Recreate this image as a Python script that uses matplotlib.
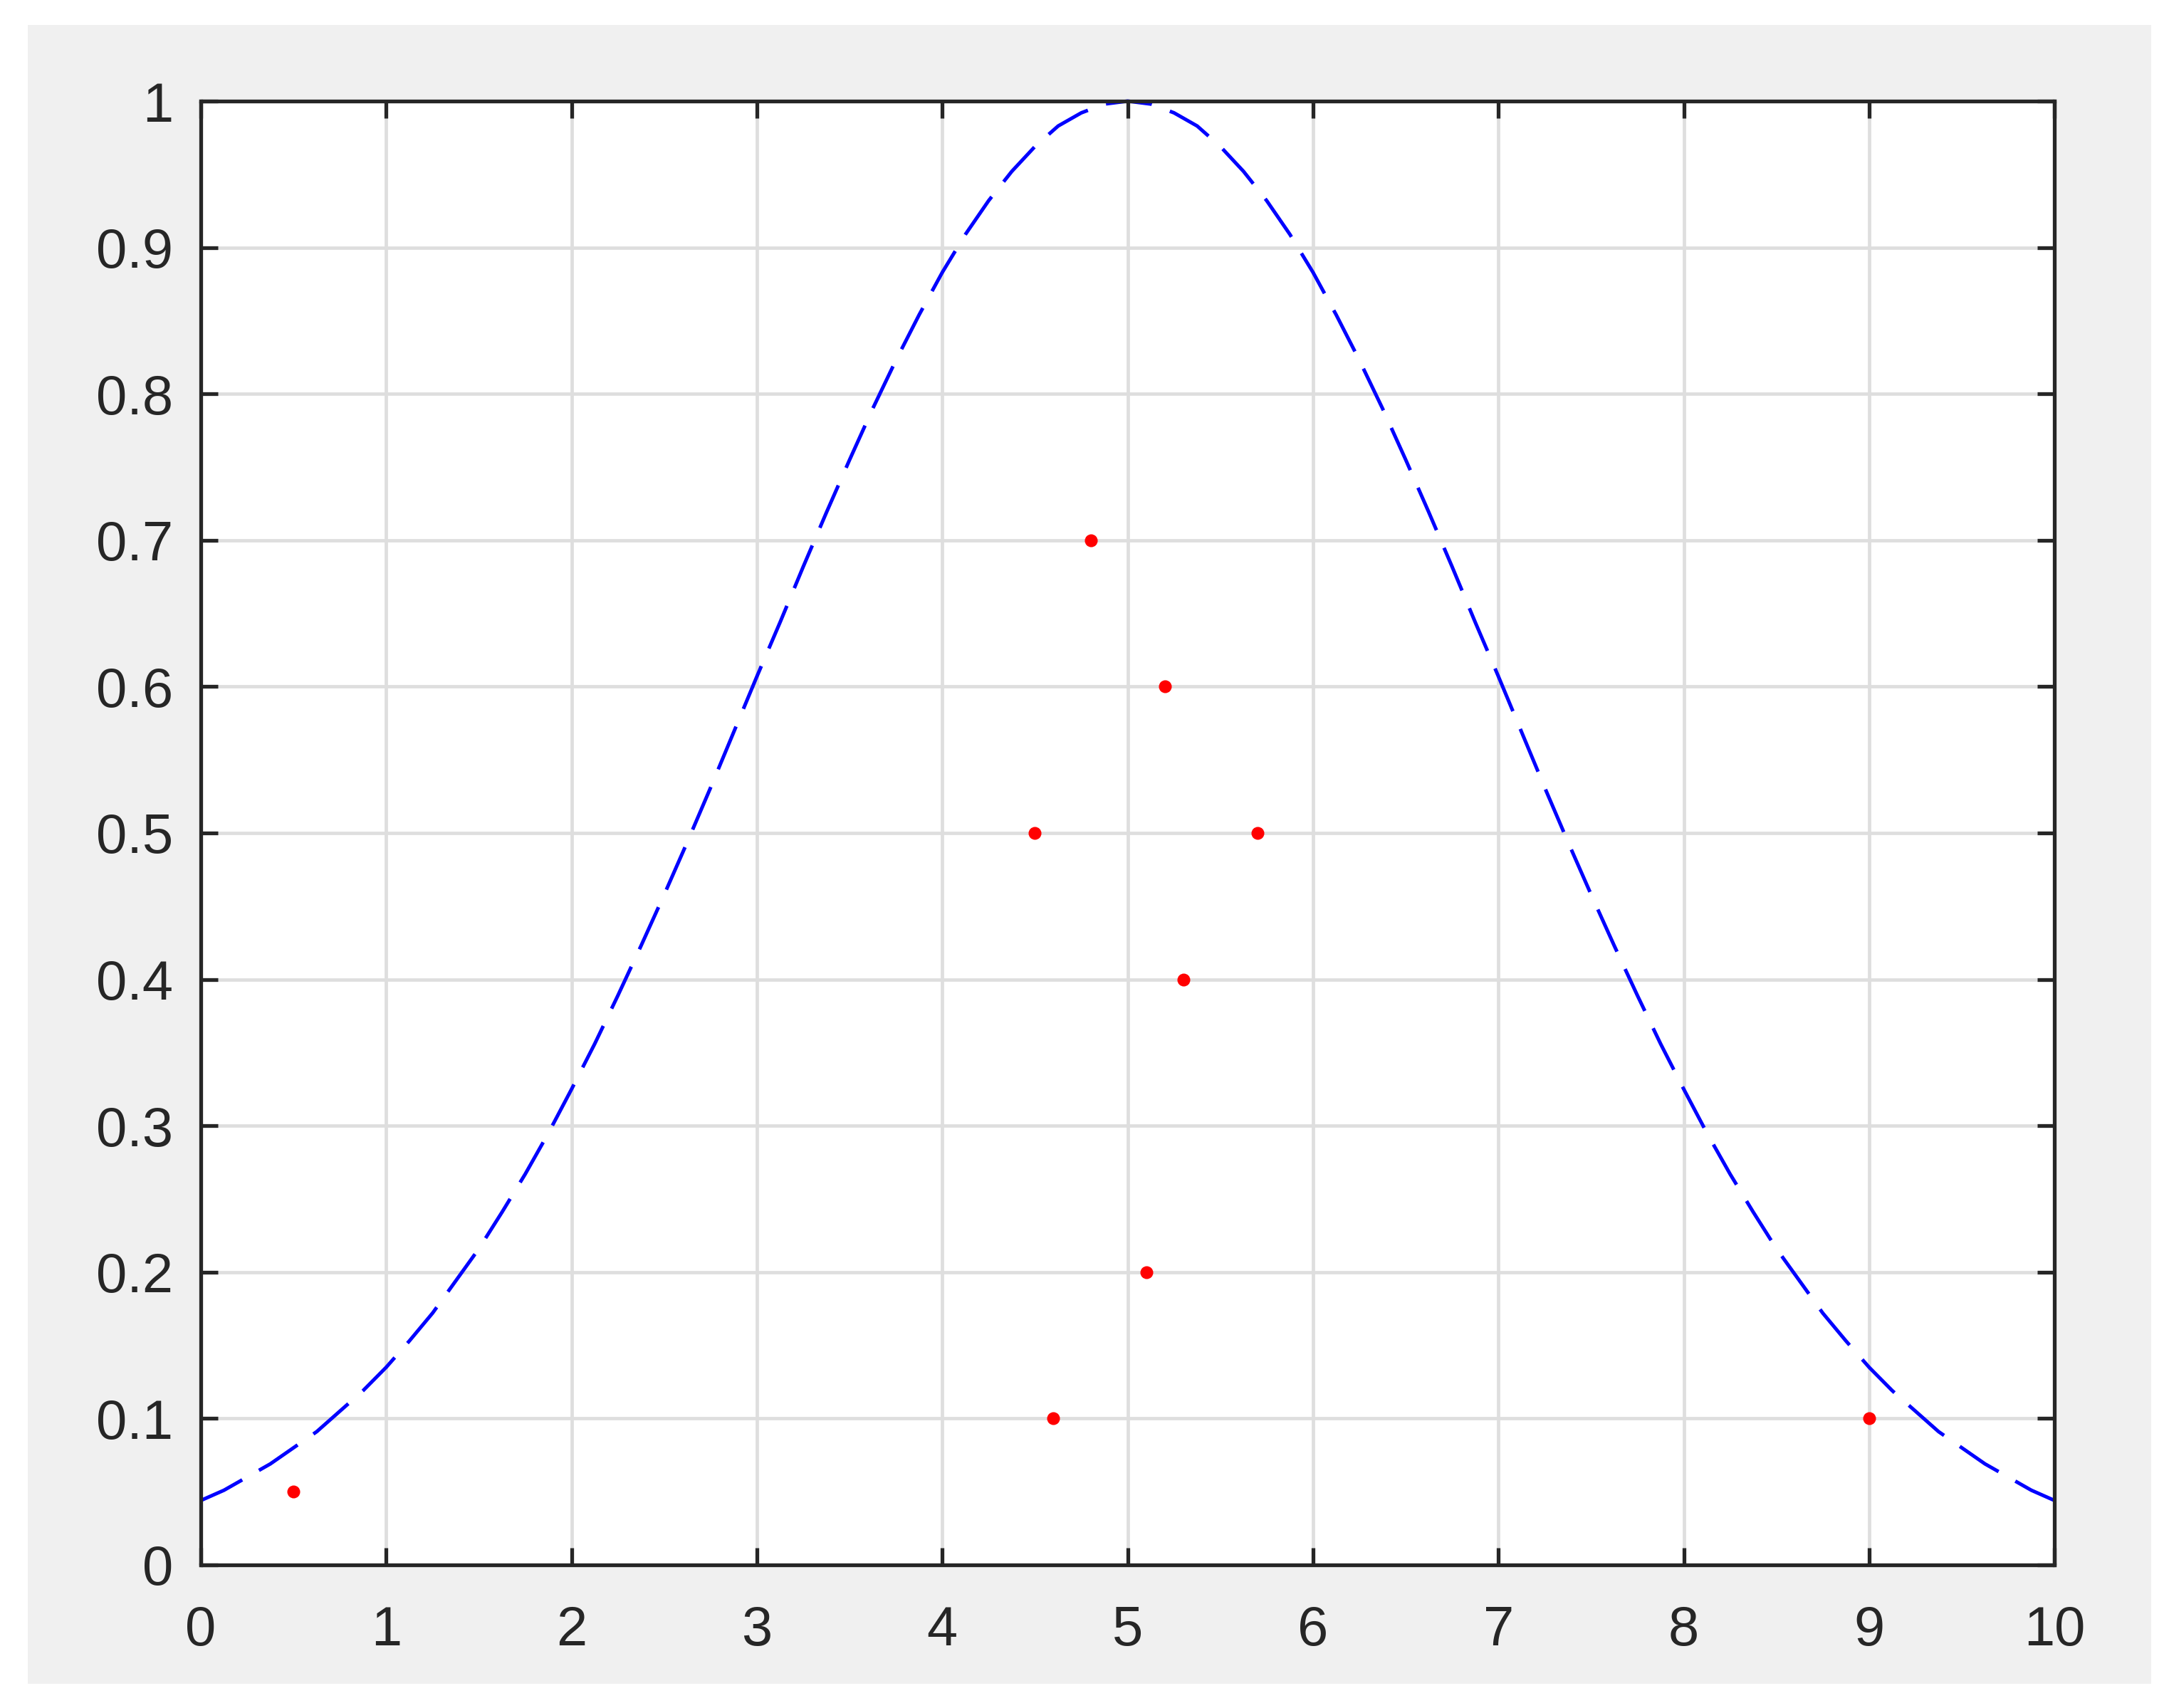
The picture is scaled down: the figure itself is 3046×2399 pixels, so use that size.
import matplotlib
matplotlib.use("Agg")
import matplotlib.pyplot as plt
from matplotlib.patches import Rectangle

# Dashed bell curve at steps of 0.125
curve_x = [0.0, 0.125, 0.25, 0.375, 0.5, 0.625, 0.75, 0.875, 1.0, 1.125, 1.25, 1.375,
           1.5, 1.625, 1.75, 1.875, 2.0, 2.125, 2.25, 2.375, 2.5, 2.625, 2.75, 2.875,
           3.0, 3.125, 3.25, 3.375, 3.5, 3.625, 3.75, 3.875, 4.0, 4.125, 4.25, 4.375,
           4.5, 4.625, 4.75, 4.875, 5.0, 5.125, 5.25, 5.375, 5.5, 5.625, 5.75, 5.875,
           6.0, 6.125, 6.25, 6.375, 6.5, 6.625, 6.75, 6.875, 7.0, 7.125, 7.25, 7.375,
           7.5, 7.625, 7.75, 7.875, 8.0, 8.125, 8.25, 8.375, 8.5, 8.625, 8.75, 8.875,
           9.0, 9.125, 9.25, 9.375, 9.5, 9.625, 9.75, 9.875, 10.0]
curve_y = [0.044, 0.051, 0.060, 0.069, 0.080, 0.091, 0.105, 0.119, 0.135, 0.153,
           0.172, 0.194, 0.216, 0.241, 0.267, 0.295, 0.325, 0.356, 0.389, 0.423,
           0.458, 0.494, 0.531, 0.569, 0.607, 0.644, 0.682, 0.719, 0.755, 0.790,
           0.823, 0.854, 0.883, 0.909, 0.932, 0.952, 0.969, 0.983, 0.992, 0.998,
           1.000, 0.998, 0.992, 0.983, 0.969, 0.952, 0.932, 0.909, 0.883, 0.854,
           0.823, 0.790, 0.755, 0.719, 0.682, 0.644, 0.607, 0.569, 0.531, 0.494,
           0.458, 0.423, 0.389, 0.356, 0.325, 0.295, 0.267, 0.241, 0.216, 0.194,
           0.172, 0.153, 0.135, 0.119, 0.105, 0.091, 0.080, 0.069, 0.060, 0.051,
           0.044]

# Red sample points
pts_x = [0.5, 4.5, 4.6, 4.8, 5.1, 5.2, 5.3, 5.7, 9.0]
pts_y = [0.05, 0.5, 0.1, 0.7, 0.2, 0.6, 0.4, 0.5, 0.1]

xticks = [0, 1, 2, 3, 4, 5, 6, 7, 8, 9, 10]
xtick_labels = ["0", "1", "2", "3", "4", "5", "6", "7", "8", "9", "10"]
yticks = [0, 0.1, 0.2, 0.3, 0.4, 0.5, 0.6, 0.7, 0.8, 0.9, 1.0]
ytick_labels = ["0", "0.1", "0.2", "0.3", "0.4", "0.5", "0.6", "0.7", "0.8", "0.9", "1"]

dark = "#262626"
plt.rcParams["font.family"] = ["Liberation Sans", "DejaVu Sans"]

fig = plt.figure(figsize=(30.46, 23.99), dpi=100, facecolor="white")

# Grey MATLAB-style figure panel, kept behind the axes
fig.patches.append(Rectangle((0.0128, 0.0142), 0.979, 0.9712, transform=fig.transFigure,
                             facecolor="#f0f0f0", edgecolor="none", zorder=-10))

ax = fig.add_axes([0.0926, 0.0838, 0.8546, 0.857])
ax.set_facecolor("white")

ax.plot(curve_x, curve_y, color="#0000ff", linewidth=3.6,
        linestyle=(0, (13, 5.4)), zorder=3, clip_on=False)
ax.plot(pts_x, pts_y, linestyle="none", marker="o", markersize=13,
        markerfacecolor="#ff0000", markeredgecolor="none", zorder=4)

ax.set_xlim(0, 10)
ax.set_ylim(0, 1)
ax.set_xticks(xticks)
ax.set_xticklabels(xtick_labels)
ax.set_yticks(yticks)
ax.set_yticklabels(ytick_labels)

ax.grid(True, color="#dedede", linewidth=3.4)
ax.set_axisbelow(True)

for s in ax.spines.values():
    s.set_color(dark)
    s.set_linewidth(3.8)
    s.set_zorder(5)

ax.tick_params(axis="both", direction="in", length=17, width=3.8, color=dark,
               labelcolor=dark, labelsize=56, top=True, right=True)
ax.tick_params(axis="x", pad=40)
ax.tick_params(axis="y", pad=28)

fig.savefig("out.png", dpi=100, facecolor="white")
